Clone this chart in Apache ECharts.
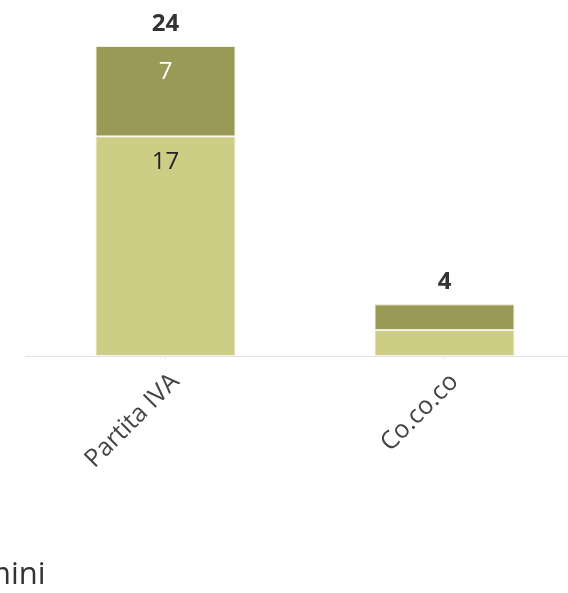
<!DOCTYPE html>
<html>
<head>
<meta charset="utf-8">
<script src="https://cdn.jsdelivr.net/npm/echarts@6/dist/echarts.min.js"></script>
<style>
  html, body { margin: 0; padding: 0; background: #fff; overflow: hidden; }
  #chart { width: 584px; height: 593px; }
</style>
</head>
<body>
<div id="chart"></div>
<script>
// Contract types and the two groups stacked in each bar
const categories = ['Partita IVA', 'Co.co.co'];
const lowerValues = [17, 2];
const upperValues = [7, 2];
const totals = categories.map((_, i) => lowerValues[i] + upperValues[i]);
const legendLabel = 'Uomini';

const FONT = '"Open Sans", "Noto Sans", sans-serif';
const chart = echarts.init(document.getElementById('chart'));

chart.setOption({
  animation: false,
  textStyle: { fontFamily: FONT },
  grid: { left: 26, top: 46, right: 0, bottom: 237, containLabel: false },
  xAxis: {
    type: 'category',
    data: categories,
    axisLine: { show: true, lineStyle: { color: '#e3e3e3', width: 1 } },
    axisTick: { show: true, alignWithLabel: true, length: 3, lineStyle: { color: '#e8e8e8' } },
    axisLabel: {
      rotate: 45, margin: 12, fontSize: 25, lineHeight: 28, color: '#444', fontFamily: FONT,
      // an empty first line drops the rotated name a little below the axis
      formatter: v => '\n' + v
    }
  },
  yAxis: { type: 'value', min: 0, max: 24, show: false, splitLine: { show: false } },
  series: [
    {
      type: 'bar', stack: 'total', barWidth: 140,
      data: lowerValues.map(v => ({ value: v, label: { show: v >= 5 } })),
      itemStyle: { color: '#cdcd86', borderColor: '#f4f4e4', borderWidth: 1 },
      label: { position: 'insideTop', distance: 14, fontSize: 24, color: '#222', fontFamily: FONT }
    },
    {
      type: 'bar', stack: 'total', barWidth: 140,
      data: upperValues.map(v => ({ value: v, label: { show: v >= 5 } })),
      itemStyle: { color: '#999a55', borderColor: '#f4f4e4', borderWidth: 1 },
      label: { position: 'insideTop', distance: 14, fontSize: 24, color: '#fff', fontFamily: FONT }
    },
    {
      type: 'bar', stack: 'total', barWidth: 140,
      data: totals.map(() => 0),
      itemStyle: { color: 'transparent' },
      label: {
        show: true, position: 'top', distance: 10,
        fontSize: 24, fontWeight: 'bold', color: '#333', fontFamily: FONT,
        formatter: p => totals[p.dataIndex]
      }
    }
  ],
  graphic: [{
    type: 'text', left: -59, bottom: 2,
    style: { text: legendLabel, font: '31px ' + FONT, fill: '#333' }
  }]
});
</script>
</body>
</html>
